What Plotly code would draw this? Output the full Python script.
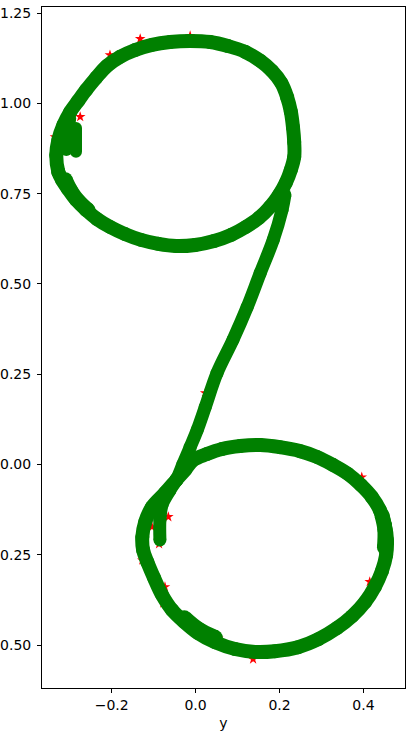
import plotly.graph_objects as go

# predicted trajectory (green), in pieces
top_loop_x = [-0.327, -0.332, -0.327, -0.315, -0.299, -0.280, -0.261, -0.237, -0.211, -0.180,
              -0.144, -0.104, -0.061, -0.013, 0.035, 0.077, 0.118, 0.154, 0.182, 0.204,
              0.218, 0.227, 0.232, 0.235, 0.235, 0.227, 0.215, 0.199, 0.177, 0.151,
              0.120, 0.085, 0.044, -0.001, -0.046, -0.089, -0.130, -0.168, -0.204, -0.235,
              -0.261, -0.285, -0.304, -0.318, -0.327]
top_loop_y = [0.810, 0.857, 0.899, 0.940, 0.976, 1.007, 1.037, 1.071, 1.104, 1.129,
              1.148, 1.162, 1.170, 1.173, 1.170, 1.159, 1.143, 1.118, 1.090, 1.057,
              1.018, 0.977, 0.935, 0.893, 0.852, 0.816, 0.780, 0.747, 0.713, 0.683,
              0.658, 0.636, 0.619, 0.608, 0.605, 0.611, 0.622, 0.638, 0.658, 0.680,
              0.705, 0.733, 0.763, 0.788, 0.810]

link_x = [0.213, 0.206, 0.185, 0.154, 0.123, 0.089, 0.051, 0.023, 0.004, -0.013,
          -0.030, -0.046, -0.061, -0.080, -0.085, -0.085]
link_y = [0.747, 0.705, 0.622, 0.530, 0.436, 0.345, 0.253, 0.159, 0.096, 0.048,
          0.001, -0.043, -0.071, -0.112, -0.154, -0.209]

bottom_loop_x = [-0.046, -0.073, -0.104, -0.120, -0.127, -0.125, -0.115, -0.099, -0.080, -0.056,
                 -0.027, 0.006, 0.046, 0.094, 0.142, 0.189, 0.244, 0.292, 0.337, 0.373,
                 0.404, 0.427, 0.444, 0.454, 0.456, 0.451, 0.439, 0.420, 0.394, 0.363,
                 0.327, 0.289, 0.249, 0.201, 0.154, 0.106, 0.063, 0.027, -0.006, -0.025,
                 -0.046]
bottom_loop_y = [-0.043, -0.079, -0.118, -0.159, -0.201, -0.237, -0.270, -0.314, -0.361, -0.403,
                 -0.436, -0.467, -0.492, -0.511, -0.519, -0.517, -0.506, -0.484, -0.453, -0.420,
                 -0.381, -0.339, -0.295, -0.251, -0.209, -0.168, -0.126, -0.090, -0.057, -0.026,
                 -0.001, 0.021, 0.037, 0.048, 0.054, 0.051, 0.043, 0.029, 0.012, -0.015,
                 -0.043]

# short extra passes where the band is thicker
extra1_x = [-0.308, -0.299]
extra1_y = [0.871, 0.959]
extra2_x = [-0.285, -0.285]
extra2_y = [0.932, 0.866]
extra3_x = [-0.310, -0.297, -0.278, -0.255]
extra3_y = [0.790, 0.760, 0.730, 0.705]
extra4_x = [-0.027, 0.006, 0.046]
extra4_y = [-0.426, -0.457, -0.480]
extra5_x = [0.444, 0.451, 0.450]
extra5_y = [-0.140, -0.180, -0.230]

# ground truth (red stars) where they peek out
true_x = [-0.335, -0.275, -0.087, -0.065, -0.104, -0.127, -0.073, -0.077, 0.054, 0.137,
          0.396, 0.415, 0.223, 0.230, 0.027, -0.132, -0.013, -0.204, 0.023, 0.011]
true_y = [0.907, 0.963, -0.220, -0.145, -0.173, -0.265, -0.339, -0.384, -0.481, -0.539,
          -0.035, -0.325, 1.018, 0.940, 0.187, 1.179, 1.187, 1.134, 0.198, 0.110]

xticks = [-0.2, 0.0, 0.2, 0.4]
yticks = [1.25, 1.00, 0.75, 0.50, 0.25, 0.00, -0.25, -0.50]

fig = go.Figure()

fig.add_trace(go.Scatter(x=true_x, y=true_y, mode="markers",
                         marker=dict(symbol="star", size=8, color="red", line=dict(width=0))))

green = "#008000"
pieces = [(top_loop_x, top_loop_y, 14), (link_x, link_y, 13), (bottom_loop_x, bottom_loop_y, 14),
          (extra1_x, extra1_y, 12), (extra2_x, extra2_y, 12), (extra3_x, extra3_y, 14),
          (extra4_x, extra4_y, 16), (extra5_x, extra5_y, 15)]
for xs, ys, w in pieces:
    fig.add_trace(go.Scatter(x=xs, y=ys, mode="lines+markers",
                             line=dict(color=green, width=w, shape="spline", smoothing=1.0),
                             marker=dict(size=w, color=green, line=dict(width=0))))

axis_style = dict(showline=True, linecolor="black", linewidth=1, mirror=True,
                  ticks="outside", ticklen=4, tickwidth=1, tickcolor="black",
                  showgrid=False, zeroline=False, automargin=False,
                  tickfont=dict(size=14, color="black"))

fig.update_xaxes(range=[-0.366, 0.499], tickvals=xticks, tickformat=".1f",
                 title=dict(text="y", font=dict(size=14, color="black"), standoff=6), **axis_style)
fig.update_yaxes(range=[-0.619, 1.267], tickvals=yticks, tickformat=".2f",
                 ticklabelstandoff=3, **axis_style)

fig.update_layout(width=414, height=739, showlegend=False,
                  margin=dict(l=42, r=9, t=7, b=51),
                  plot_bgcolor="white", paper_bgcolor="white",
                  font=dict(family="DejaVu Sans", color="black"))

# page body has a default 8px margin; drop it so the figure sits at the corner
fig.write_html("out.html", config={"displayModeBar": False},
               post_script="document.body.style.margin='0';")
